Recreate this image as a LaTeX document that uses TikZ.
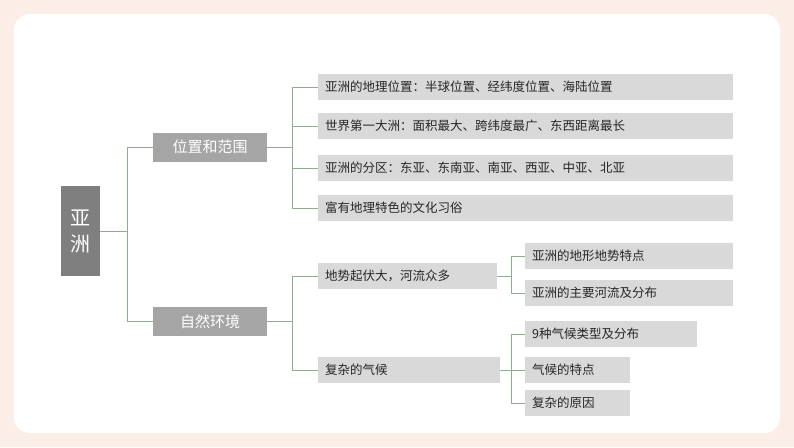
\documentclass[tikz,border=0pt]{standalone}
\usepackage{fontspec}
\newfontfamily\cjk{Noto Sans CJK SC}
\definecolor{bgc}{HTML}{FBEEE6}
\definecolor{dk}{HTML}{7F7F7F}
\definecolor{md}{HTML}{A5A5A5}
\definecolor{lt}{HTML}{D9D9D9}
\definecolor{ln}{HTML}{8FAE8F}
\begin{document}
\begin{tikzpicture}[x=1pt,y=-1pt,
  rootbox/.style={fill=dk,text=white,font=\cjk\fontsize{20}{26}\selectfont,inner sep=0pt,minimum width=39pt,minimum height=90pt,align=center},
  midbox/.style={fill=md,text=white,font=\cjk\fontsize{15}{18}\selectfont,inner sep=0pt,minimum width=114pt,minimum height=29pt},
  leafbox/.style={fill=lt,text=black!85,font=\cjk\fontsize{12.5}{15}\selectfont,inner sep=0pt,anchor=west,minimum height=26pt,text width=#1,align=left,inner xsep=7pt},
  conn/.style={draw=ln,line width=0.8pt}]
\fill[bgc] (0,0) rectangle (794,447);
\fill[white,rounded corners=16pt] (14,14) rectangle (780,433);
\node[rootbox] (root) at (80.5,231) {亚\\洲};
\node[midbox] (b1) at (210,147) {位置和范围};
\node[midbox] (b2) at (210,321.5) {自然环境};
\node[leafbox=401pt] (l1) at (318,87) {亚洲的地理位置：半球位置、经纬度位置、海陆位置};
\node[leafbox=401pt] (l2) at (318,126) {世界第一大洲：面积最大、跨纬度最广、东西距离最长};
\node[leafbox=401pt] (l3) at (318,168) {亚洲的分区：东亚、东南亚、南亚、西亚、中亚、北亚};
\node[leafbox=401pt] (l4) at (318,208) {富有地理特色的文化习俗};
\node[leafbox=165pt] (m1) at (318,276) {地势起伏大，河流众多};
\node[leafbox=168pt] (m2) at (318,370) {复杂的气候};
\node[leafbox=194pt] (n1) at (525,256) {亚洲的地形地势特点};
\node[leafbox=194pt] (n2) at (525,293) {亚洲的主要河流及分布};
\node[leafbox=158pt] (c1) at (525,334) {9种气候类型及分布};
\node[leafbox=91pt] (c2) at (525,370) {气候的特点};
\node[leafbox=91pt] (c3) at (525,403) {复杂的原因};
\coordinate (j0) at (127,231);
\coordinate (j1) at (292,147);
\coordinate (j2) at (292,321.5);
\coordinate (j3) at (511,276);
\coordinate (j4) at (511,370);
\draw[conn] (root.east) -- (j0);
\foreach \t in {b1,b2} \draw[conn] (j0) |- (\t.west);
\draw[conn] (b1.east) -- (j1);
\foreach \t in {l1,l2,l3,l4} \draw[conn] (j1) |- (\t.west);
\draw[conn] (b2.east) -- (j2);
\foreach \t in {m1,m2} \draw[conn] (j2) |- (\t.west);
\draw[conn] (m1.east) -- (j3);
\foreach \t in {n1,n2} \draw[conn] (j3) |- (\t.west);
\draw[conn] (m2.east) -- (j4);
\foreach \t in {c1,c2,c3} \draw[conn] (j4) |- (\t.west);
\end{tikzpicture}
\end{document}
